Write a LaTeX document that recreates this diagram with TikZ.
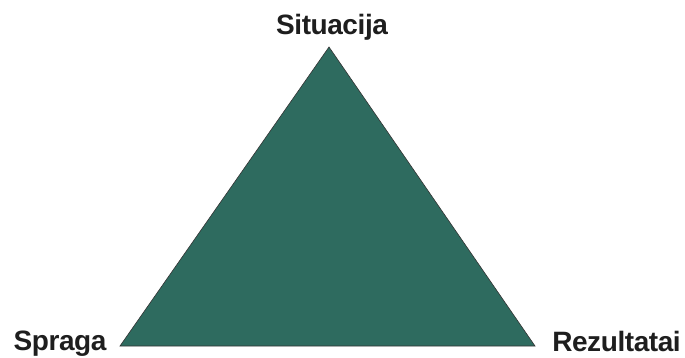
\documentclass[tikz,border=0pt]{standalone}
\usepackage{fontspec}
\setmainfont{Liberation Sans}
\definecolor{tealfill}{HTML}{2E6B5F}
\definecolor{labelgray}{HTML}{1E1E1E}
\newfontfamily\lblfont[LetterSpace=-1.5]{Liberation Sans}
\tikzset{
  lbl/.style={inner sep=0pt, anchor=base, font=\lblfont\bfseries\fontsize{28}{32}\selectfont, text=labelgray},
  tri/.style={fill=tealfill, draw=black!80, line width=0.6pt, line join=miter}
}
\begin{document}
\begin{tikzpicture}[x=1pt,y=-1pt]
\useasboundingbox (0,0) rectangle (685,358);
\coordinate (top) at (329,47);
\coordinate (bl) at (120,346);
\coordinate (br) at (535,346);
\draw[tri] (top) -- (br) -- (bl) -- cycle;
\node[lbl] (sit) at (332,35) {Situacija};
\node[lbl] (spr) at (60,350) {Spraga};
\node[lbl] (rez) at (616.5,351) {Rezultatai};
\end{tikzpicture}
\end{document}
